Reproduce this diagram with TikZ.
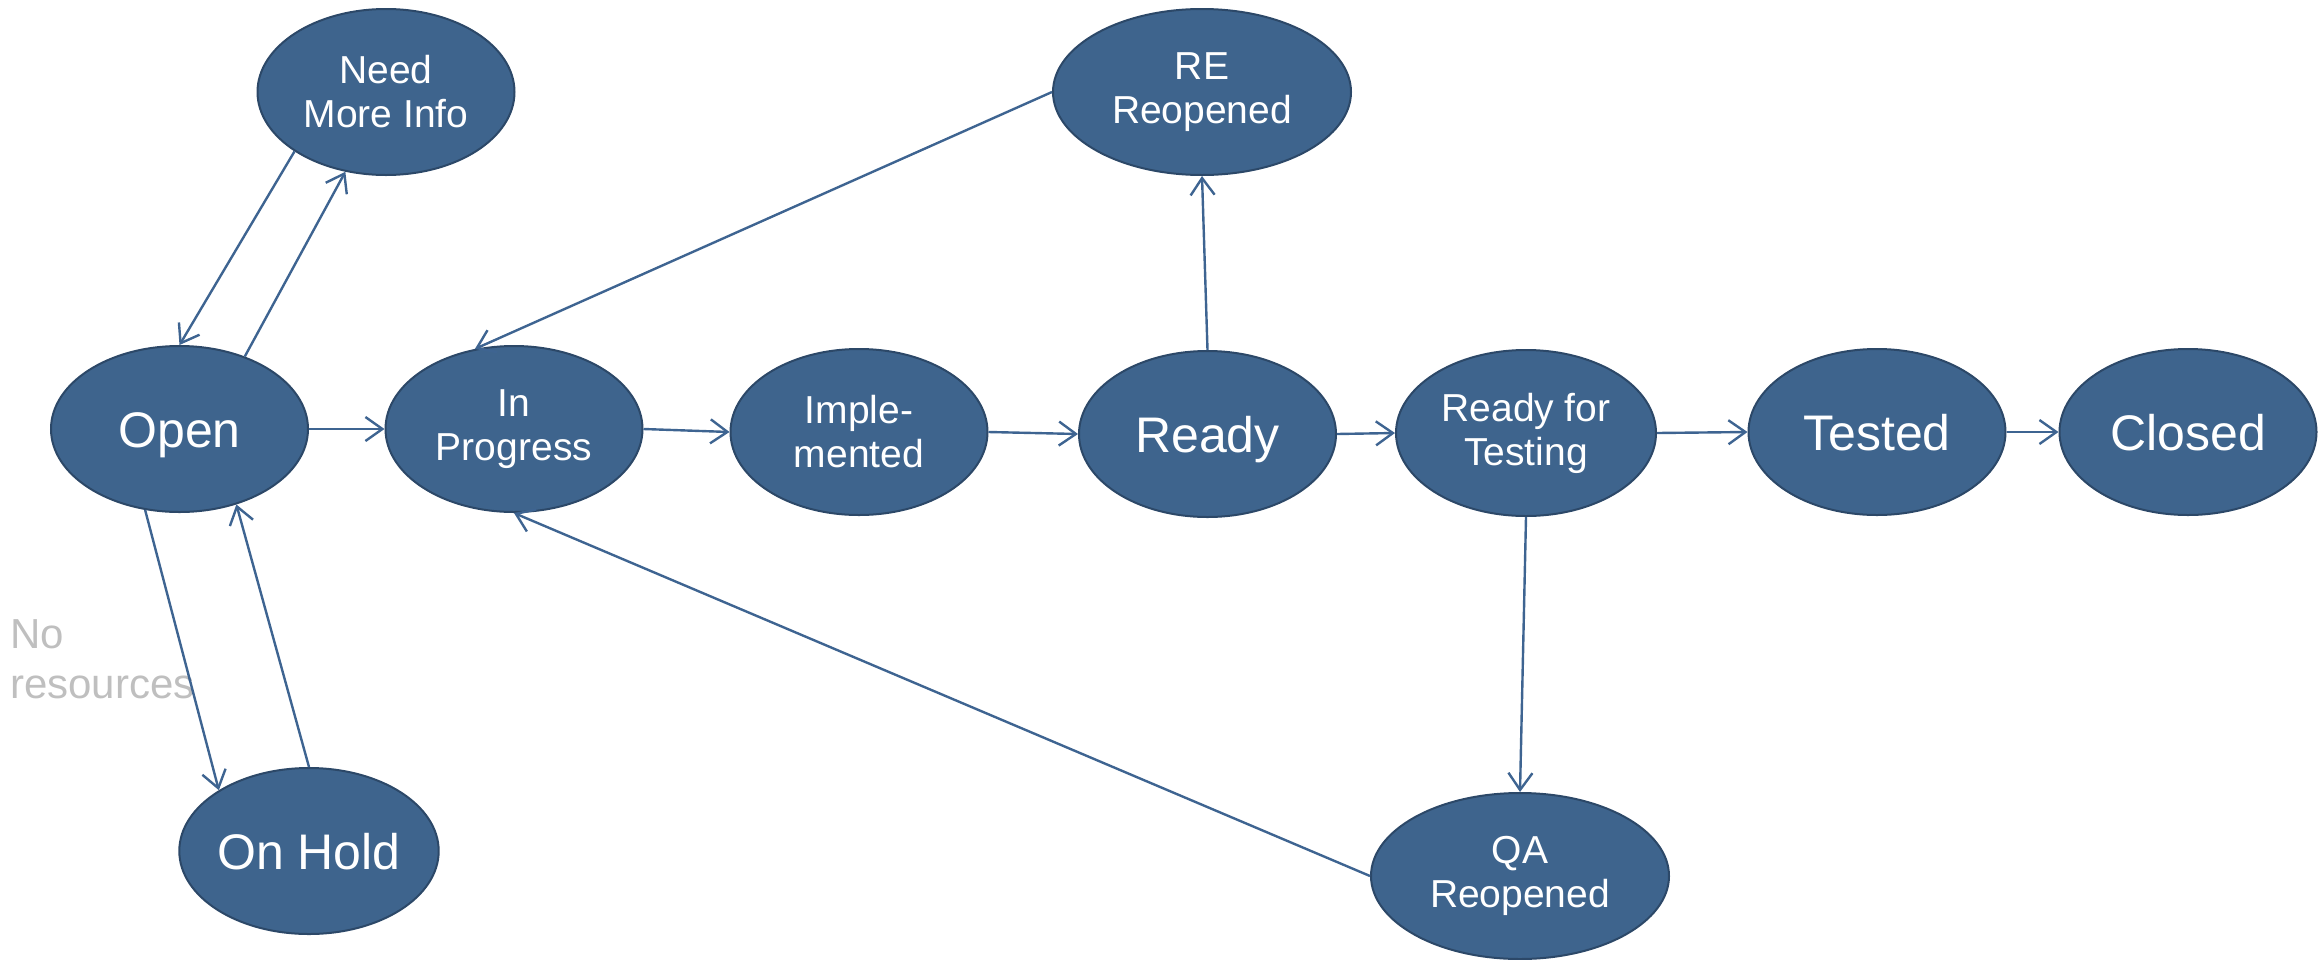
\documentclass[tikz,border=0pt]{standalone}
\usepackage{fontspec}
\setmainfont{Liberation Sans}
\usetikzlibrary{shapes.geometric,arrows.meta}
\definecolor{statefill}{RGB}{62,100,141}
\definecolor{stateedge}{RGB}{44,72,104}
\definecolor{flowline}{RGB}{62,100,145}
\definecolor{notegray}{RGB}{191,191,191}
\tikzset{
  state/.style={ellipse, fill=statefill, draw=stateedge, line width=2pt,
    inner sep=0pt, text=white, align=center,
    minimum width=257pt, minimum height=166pt},
  wide/.style={minimum width=298pt},
  bigtext/.style={font=\fontsize{50}{55}\selectfont, text height=36pt, text depth=0pt},
  smalltext/.style={font=\fontsize{39}{44}\selectfont},
  flow/.style={draw=flowline, line width=2.4pt,
    -{Straight Barb[length=17pt,width=24pt,line width=2.4pt]}},
}
\begin{document}
\begin{tikzpicture}[x=1pt,y=-1pt]
\useasboundingbox (0,0) rectangle (2318,959);

% states
\node[state,smalltext] (need) at (386,92) {Need\\More Info};
\node[state,wide,smalltext] (reopen) at (1202,92) {RE\\Reopened};
\node[state,bigtext] (open) at (179.5,429) {Open};
\node[state,smalltext] (prog) at (514,429) {In\\Progress};
\node[state,smalltext] (impl) at (859,432) {Imple-\\mented};
\node[state,bigtext] (ready) at (1207.5,434) {Ready};
\node[state,smalltext,minimum width=260pt] (rft) at (1526,433) {Ready for\\Testing};
\node[state,bigtext] (tested) at (1877,432) {Tested};
\node[state,bigtext] (closed) at (2188,432) {Closed};
\node[state,bigtext] (hold) at (309,851) {On Hold};
\node[state,wide,smalltext] (qa) at (1520,876) {QA\\Reopened};

% note beside the hold loop
\node[anchor=north west, inner sep=0pt, align=left, text=notegray,
  font=\fontsize{42}{50}\selectfont] (note) at (10,619) {No\\resources};

% transitions
\draw[flow] (need.213) -- (open.90);
\draw[flow] (open.48) -- (need.243);
\draw[flow] (open.east) -- (prog.west);
\draw[flow] (open.247) -- (hold.146);
\draw[flow] (hold.90) -- (open.307);
\draw[flow] (prog.east) -- (impl.west);
\draw[flow] (impl.east) -- (ready.west);
\draw[flow] (ready.north) -- (reopen.south);
\draw[flow] (reopen.west) -- (prog.116);
\draw[flow] (ready.east) -- (rft.west);
\draw[flow] (rft.east) -- (tested.west);
\draw[flow] (tested.east) -- (closed.west);
\draw[flow] (rft.south) -- (qa.north);
\draw[flow] (qa.west) -- (prog.south);
\end{tikzpicture}
\end{document}
